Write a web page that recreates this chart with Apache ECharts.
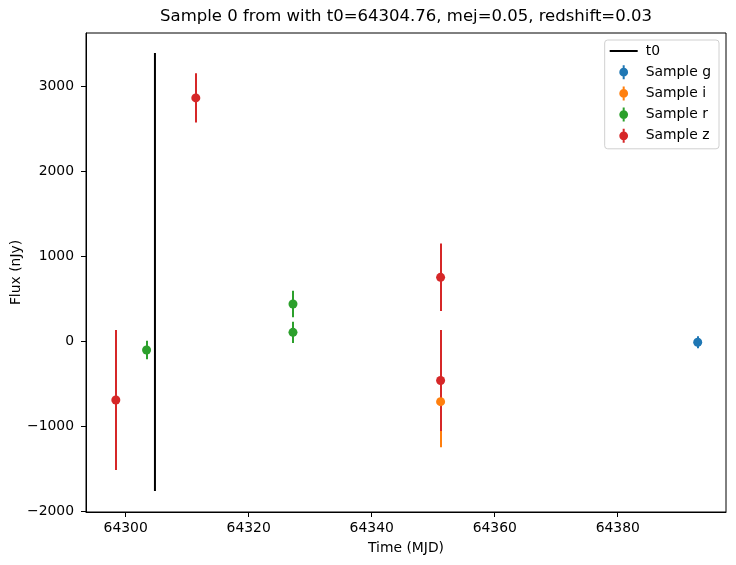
<!DOCTYPE html>
<html>
<head>
<meta charset="utf-8">
<script src="https://cdn.jsdelivr.net/npm/echarts@6/dist/echarts.min.js"></script>
<style>
  html, body { margin: 0; padding: 0; background: #fff; }
  #chart { width: 736px; height: 565px; }
</style>
</head>
<body>
<div id="chart"></div>
<script>
// data
const t0 = 64304.76;
const t0Span = [-1765, 3388];

const gTime = [64393.0];
const gFlux = [-15];
const gErr = [70];

const iTime = [64351.2];
const iFlux = [-714];
const iErr = [537];

const rTime = [64303.4, 64327.2, 64327.2];
const rFlux = [-106, 435, 102];
const rErr = [110, 157, 125];

const zTime = [64298.4, 64311.4, 64351.2, 64351.2];
const zFlux = [-694, 2860, 749, -465];
const zErr = [823, 290, 397, 594];

const xTicks = [64300, 64320, 64340, 64360, 64380];
const yTicks = [-2000, -1000, 0, 1000, 2000, 3000];

const FONT = 'DejaVu Sans';
const bands = [
  { name: 'Sample g', color: '#1f77b4', t: gTime, f: gFlux, e: gErr },
  { name: 'Sample i', color: '#ff7f0e', t: iTime, f: iFlux, e: iErr },
  { name: 'Sample r', color: '#2ca02c', t: rTime, f: rFlux, e: rErr },
  { name: 'Sample z', color: '#d62728', t: zTime, f: zFlux, e: zErr },
];

// legend icons: 28x14 box, corner specks keep the box size
const box = 'M0,0 L0.01,0 L0.01,0.01 Z M28,14 L27.99,14 L27.99,13.99 Z ';
const lineIcon = 'path://' + box + 'M0,6 L28,6 L28,8 L0,8 Z';
const ebIcon = 'path://' + box +
  'M13,0 L15,0 L15,14 L13,14 Z M14,2.6 A4.4,4.4 0 1,1 14,11.4 A4.4,4.4 0 1,1 14,2.6 Z';

const fmt = v => (v < 0 ? '\u2212' + (-v) : String(v));

const series = [];
series.push({
  name: 't0',
  type: 'line',
  symbol: 'none',
  z: 2,
  lineStyle: { color: '#000', width: 2 },
  itemStyle: { color: '#000' },
  data: [[t0, t0Span[0]], [t0, t0Span[1]]],
});
bands.forEach((b, idx) => {
  // error bars, later bands drawn over earlier ones
  series.push({
    name: b.name,
    type: 'custom',
    z: 3 + idx,
    itemStyle: { color: b.color },
    data: b.t.map((t, k) => [t, b.f[k] - b.e[k], b.f[k] + b.e[k]]),
    encode: { x: 0, y: [1, 2] },
    renderItem: (params, api) => {
      const lo = api.coord([api.value(0), api.value(1)]);
      const hi = api.coord([api.value(0), api.value(2)]);
      const x = Math.round(lo[0]);
      return {
        type: 'line',
        shape: { x1: x, y1: lo[1], x2: x, y2: hi[1] },
        style: { stroke: b.color, lineWidth: 2 },
      };
    },
  });
});
bands.forEach((b, idx) => {
  // markers on top of all bars
  series.push({
    name: b.name,
    type: 'scatter',
    z: 10 + idx,
    symbol: 'circle',
    symbolSize: 9,
    itemStyle: { color: b.color, opacity: 1 },
    data: b.t.map((t, k) => [t, b.f[k]]),
  });
});

const chart = echarts.init(document.getElementById('chart'), null, { renderer: 'canvas' });
chart.setOption({
  animation: false,
  backgroundColor: '#fff',
  textStyle: { fontFamily: FONT },
  graphic: [{
    type: 'text',
    x: 406, y: 17,
    style: {
      text: 'Sample 0 from with t0=64304.76, mej=0.05, redshift=0.03',
      fontFamily: FONT, fontSize: 16.5, fill: '#000',
      textAlign: 'center', textVerticalAlign: 'middle',
    },
  }],
  grid: {
    left: 86, right: 10, top: 33, bottom: 53,
    show: true, borderColor: '#000', borderWidth: 1,
    containLabel: false, outerBoundsMode: 'none',
  },
  legend: {
    orient: 'vertical',
    right: 17, top: 40,
    padding: [4, 8, 6, 5],
    itemWidth: 28, itemHeight: 14, itemGap: 7.2,
    backgroundColor: 'rgba(255,255,255,0.8)',
    borderColor: '#d0d0d0', borderWidth: 1, borderRadius: 3,
    textStyle: { fontFamily: FONT, fontSize: 13.9, color: '#000', padding: [0, 0, 0, 3] },
    data: [
      { name: 't0', icon: lineIcon, itemStyle: { color: '#000' } },
      { name: 'Sample g', icon: ebIcon },
      { name: 'Sample i', icon: ebIcon },
      { name: 'Sample r', icon: ebIcon },
      { name: 'Sample z', icon: ebIcon },
    ],
    selectedMode: false,
  },
  xAxis: {
    type: 'value',
    min: 64293.55, max: 64397.6,
    name: 'Time (MJD)', nameLocation: 'middle', nameGap: 29, nameMoveOverlap: false,
    nameTextStyle: { fontFamily: FONT, fontSize: 13.9, color: '#000' },
    axisLine: { show: true, onZero: false, lineStyle: { color: '#000', width: 1 } },
    axisTick: { show: true, length: 5, lineStyle: { color: '#000' }, customValues: xTicks },
    axisLabel: { fontFamily: FONT, fontSize: 13.9, color: '#000', margin: 9, formatter: fmt, customValues: xTicks },
    splitLine: { show: false },
  },
  yAxis: {
    type: 'value',
    min: -2012, max: 3624,
    name: 'Flux (nJy)', nameLocation: 'middle', nameGap: 63, nameRotate: 90, nameMoveOverlap: false,
    nameTextStyle: { fontFamily: FONT, fontSize: 13.9, color: '#000' },
    axisLine: { show: true, onZero: false, lineStyle: { color: '#000', width: 1 } },
    axisTick: { show: true, length: 5, lineStyle: { color: '#000' }, customValues: yTicks },
    axisLabel: { fontFamily: FONT, fontSize: 13.9, color: '#000', margin: 12, formatter: fmt, customValues: yTicks },
    splitLine: { show: false },
  },
  series: series,
});
</script>
</body>
</html>
